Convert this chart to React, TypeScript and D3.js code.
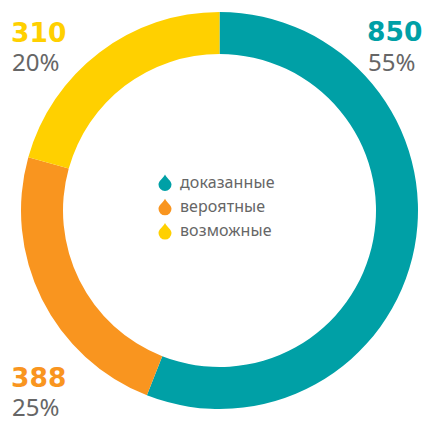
import React from "react";
import * as d3 from "d3";

const categories = ["доказанные", "вероятные", "возможные"];
const volumes = ["850", "388", "310"];
const percents = ["55%", "25%", "20%"];
const arcShares = [55.96, 23.37, 20.67];
const colors = ["#00a0a6", "#f9951f", "#ffd000"];
const grey = "#666666";

const W = 425, H = 421;
const cx = 219.5, cy = 210.5, R = 198.5, r = 156.5;
const font = "'Noto Sans', sans-serif";

const pie = d3.pie<number>().sort(null)(arcShares);
const arc = d3.arc<d3.PieArcDatum<number>>().innerRadius(r).outerRadius(R);

const labelPos = [
  { x: 367, yv: 41, yp: 71 },
  { x: 11, yv: 387, yp: 416 },
  { x: 11, yv: 42, yp: 71 },
];

function Drop({ x, y, c }: { x: number; y: number; c: string }) {
  return (
    <path
      d={`M${x},${y - 8} C${x + 2},${y - 4} ${x + 6.5},${y - 1.5} ${x + 6.5},${y + 2} A6.5,6.5 0 1 1 ${x - 6.5},${y + 2} C${x - 6.5},${y - 1.5} ${x - 2},${y - 4} ${x},${y - 8} Z`}
      fill={c}
    />
  );
}

export default function App() {
  return (
    <svg
      width={W}
      height={H}
      viewBox={`0 0 ${W} ${H}`}
      style={{ position: "fixed", left: 0, top: 0, background: "#fff" }}
      fontFamily={font}
    >
      <g transform={`translate(${cx},${cy})`}>
        {pie.map((d, i) => (
          <path key={i} d={arc(d) as string} fill={colors[i]} />
        ))}
      </g>
      {categories.map((c, i) => (
        <g key={c}>
          <Drop x={165} y={182.5 + i * 24.3} c={colors[i]} />
          <text x={180} y={188 + i * 24} fontSize={16} letterSpacing={0.1} fill={grey}>
            {c}
          </text>
        </g>
      ))}
      {volumes.map((v, i) => (
        <g key={v}>
          <text
            x={labelPos[i].x}
            y={labelPos[i].yv}
            fontFamily="'DejaVu Sans', sans-serif"
            fontSize={26.5}
            fontWeight={700}
            fill={colors[i]}
          >
            {v}
          </text>
          <text x={labelPos[i].x + 1} y={labelPos[i].yp} fontSize={24} fill={grey}>
            {percents[i]}
          </text>
        </g>
      ))}
    </svg>
  );
}
